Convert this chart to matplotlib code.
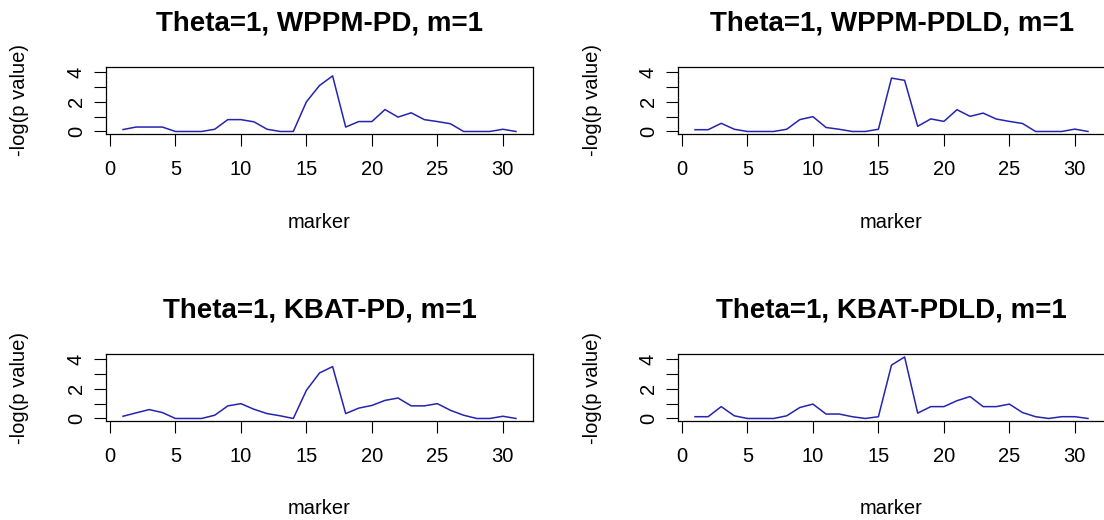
import matplotlib
matplotlib.use('Agg')
import matplotlib.pyplot as plt

plt.rcParams['font.family'] = ['Liberation Sans', 'DejaVu Sans']

markers = list(range(1, 32))

wppm_pd = [0.13, 0.3, 0.3, 0.3, 0.0, 0.0, 0.0, 0.15, 0.8, 0.8, 0.65, 0.15, 0.0, 0.0, 2.0,
           3.1, 3.75, 0.3, 0.67, 0.67, 1.48, 0.97, 1.26, 0.8, 0.67, 0.52, 0.0, 0.0, 0.0, 0.15, 0.0]
wppm_pdld = [0.12, 0.12, 0.55, 0.15, 0.0, 0.0, 0.0, 0.15, 0.8, 1.0, 0.27, 0.15, 0.0, 0.0, 0.15,
             3.6, 3.45, 0.35, 0.85, 0.68, 1.47, 1.02, 1.24, 0.84, 0.68, 0.54, 0.0, 0.0, 0.0, 0.16, 0.0]
kbat_pd = [0.15, 0.38, 0.6, 0.4, 0.0, 0.0, 0.0, 0.22, 0.85, 1.0, 0.62, 0.33, 0.18, 0.0, 1.9,
           3.07, 3.5, 0.33, 0.7, 0.88, 1.22, 1.38, 0.85, 0.85, 1.0, 0.55, 0.22, 0.0, 0.0, 0.15, 0.0]
kbat_pdld = [0.12, 0.12, 0.8, 0.18, 0.0, 0.0, 0.0, 0.18, 0.74, 0.97, 0.3, 0.3, 0.12, 0.0, 0.12,
             3.6, 4.15, 0.36, 0.8, 0.8, 1.2, 1.48, 0.8, 0.8, 0.97, 0.4, 0.12, 0.0, 0.12, 0.12, 0.0]

titles = ['Theta=1, WPPM-PD, m=1', 'Theta=1, WPPM-PDLD, m=1',
          'Theta=1, KBAT-PD, m=1', 'Theta=1, KBAT-PDLD, m=1']
series = [wppm_pd, wppm_pdld, kbat_pd, kbat_pdld]

xticks = [0, 5, 10, 15, 20, 25, 30]
yticks = [0, 1, 2, 3, 4]
ytick_labels = ['0', '', '2', '', '4']

W, H = 1104, 520
fig = plt.figure(figsize=(W / 100, H / 100), dpi=100)

# box positions in pixels: left, top, width, height
boxes = [(106, 67, 427, 67), (678, 67, 427, 67),
         (106, 354, 427, 67), (678, 354, 427, 67)]

for (l, t, w, h), vals, title in zip(boxes, series, titles):
    ax = fig.add_axes([l / W, 1 - (t + h) / H, w / W, h / H])
    ax.plot(markers, vals, color='#2424b0', lw=1.1)
    ax.set_xlim(-0.3, 32.3)
    ax.set_ylim(-0.17, 4.35)
    ax.set_xticks(xticks)
    ax.set_yticks(yticks)
    ax.set_yticklabels(ytick_labels)
    ax.tick_params(direction='out', length=8.5, width=0.8, color='black',
                   labelsize=14.5, pad=10)
    ax.tick_params(axis='y', labelrotation=90, pad=6)
    for lab in ax.get_yticklabels():
        lab.set_va('center')
    for s in ax.spines.values():
        s.set_linewidth(0.9)
        s.set_color('black')
    ax.set_title(title, fontsize=20, fontweight='bold', pad=26)
    ax.set_xlabel('marker', fontsize=14.5)
    ax.xaxis.set_label_coords(0.5, -88 / h)
    ax.xaxis.label.set_va('center')
    ax.set_ylabel('-log(p value)', fontsize=14.5)
    ax.yaxis.set_label_coords(-86 / w, 0.5)
    ax.yaxis.label.set_va('center')

plt.savefig('out.png', dpi=100)
